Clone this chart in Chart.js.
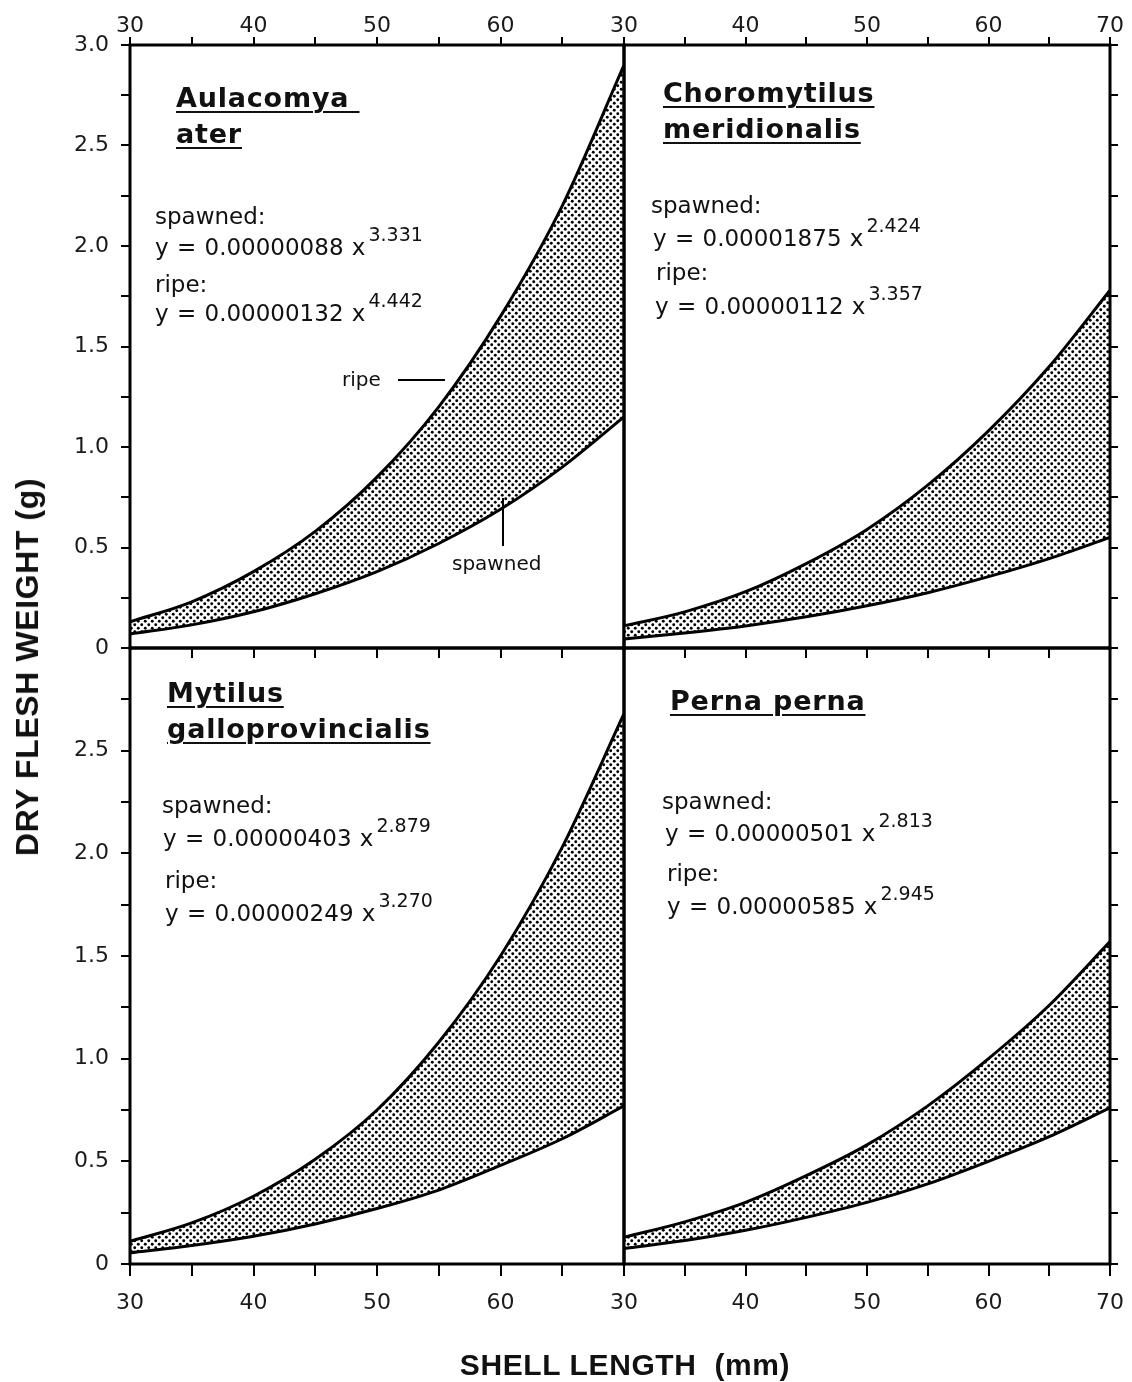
<!DOCTYPE html>
<html>
<head>
<meta charset="utf-8">
<script src="https://cdn.jsdelivr.net/npm/chart.js@4.4.1/dist/chart.umd.min.js"></script>
<style>
  html, body { margin: 0; padding: 0; background: #fff; }
  #page { position: relative; width: 1132px; height: 1382px; overflow: hidden; color: #111; font-family: 'DejaVu Sans', sans-serif; }
  #page canvas { position: absolute; left: 0; top: 0; }
  .t { position: absolute; white-space: pre; line-height: 1; z-index: 2; }
  .sp { font-weight: bold; font-size: 27px; letter-spacing: 0.8px; text-decoration: underline; text-decoration-thickness: 2px; text-underline-offset: 4px; }
  .eq { font-size: 23px; word-spacing: 1px; }
  .eq sup { font-size: 19px; position: relative; top: -5px; vertical-align: super; line-height: 0; margin-left: 3px; }
  .note { font-size: 20px; }
  .ttl { font-family: 'Liberation Sans', Arial, sans-serif; font-weight: bold; font-size: 30px; letter-spacing: 0.6px; }
  .lead { position: absolute; background: #000; z-index: 2; }
</style>
</head>
<body>
<div id="page">
  <canvas id="tl" width="1132" height="1382"></canvas>
  <canvas id="tr" width="1132" height="1382"></canvas>
  <canvas id="bl" width="1132" height="1382"></canvas>
  <canvas id="br" width="1132" height="1382"></canvas>

  <!-- Aulacomya ater -->
  <div class="t sp" style="left:176px;top:84px">Aulacomya&nbsp;</div>
  <div class="t sp" style="left:176px;top:120px">ater</div>
  <div class="t eq" style="left:155px;top:205px">spawned:</div>
  <div class="t eq" style="left:155px;top:236px">y = 0.00000088 x<sup>3.331</sup></div>
  <div class="t eq" style="left:155px;top:273px">ripe:</div>
  <div class="t eq" style="left:155px;top:302px">y = 0.00000132 x<sup>4.442</sup></div>
  <div class="t note" style="left:342px;top:369px">ripe</div>
  <div class="lead" style="left:398px;top:379px;width:47px;height:2px"></div>
  <div class="t note" style="left:452px;top:553px">spawned</div>
  <div class="lead" style="left:502px;top:498px;width:2px;height:48px"></div>

  <!-- Choromytilus meridionalis -->
  <div class="t sp" style="left:663px;top:79px">Choromytilus</div>
  <div class="t sp" style="left:663px;top:115px">meridionalis</div>
  <div class="t eq" style="left:651px;top:194px">spawned:</div>
  <div class="t eq" style="left:653px;top:227px">y = 0.00001875 x<sup>2.424</sup></div>
  <div class="t eq" style="left:656px;top:261px">ripe:</div>
  <div class="t eq" style="left:655px;top:295px">y = 0.00000112 x<sup>3.357</sup></div>

  <!-- Mytilus galloprovincialis -->
  <div class="t sp" style="left:167px;top:679px">Mytilus</div>
  <div class="t sp" style="left:167px;top:715px">galloprovincialis</div>
  <div class="t eq" style="left:162px;top:794px">spawned:</div>
  <div class="t eq" style="left:163px;top:827px">y = 0.00000403 x<sup>2.879</sup></div>
  <div class="t eq" style="left:165px;top:869px">ripe:</div>
  <div class="t eq" style="left:165px;top:902px">y = 0.00000249 x<sup>3.270</sup></div>

  <!-- Perna perna -->
  <div class="t sp" style="left:670px;top:687px">Perna perna</div>
  <div class="t eq" style="left:662px;top:790px">spawned:</div>
  <div class="t eq" style="left:665px;top:822px">y = 0.00000501 x<sup>2.813</sup></div>
  <div class="t eq" style="left:667px;top:862px">ripe:</div>
  <div class="t eq" style="left:667px;top:895px">y = 0.00000585 x<sup>2.945</sup></div>

  <!-- axis titles -->
  <div class="t ttl" style="left:27px;top:667px;font-size:32px;transform:translate(-50%,-50%) rotate(-90deg)">DRY FLESH WEIGHT (g)</div>
  <div class="t ttl" style="left:625px;top:1365px;transform:translate(-50%,-50%)">SHELL LENGTH  (mm)</div>
</div>

<script>
// shell length (mm) at which each curve is sampled
const SHELL_MM = [30, 35, 40, 45, 50, 55, 60, 65, 70];

// dry flesh weight (g)
const AULACOMYA_SPAWNED    = [0.07, 0.115, 0.18, 0.27, 0.38, 0.52, 0.69, 0.90, 1.15];
const AULACOMYA_RIPE       = [0.13, 0.23, 0.38, 0.58, 0.85, 1.20, 1.65, 2.20, 2.90];
const CHOROMYTILUS_SPAWNED = [0.045, 0.075, 0.11, 0.155, 0.21, 0.275, 0.355, 0.445, 0.55];
const CHOROMYTILUS_RIPE    = [0.11, 0.18, 0.28, 0.42, 0.59, 0.81, 1.08, 1.40, 1.78];
const MYTILUS_SPAWNED      = [0.055, 0.09, 0.135, 0.195, 0.27, 0.36, 0.48, 0.61, 0.77];
const MYTILUS_RIPE         = [0.11, 0.20, 0.33, 0.51, 0.75, 1.08, 1.50, 2.03, 2.68];
const PERNA_SPAWNED        = [0.075, 0.114, 0.164, 0.227, 0.30, 0.39, 0.50, 0.62, 0.76];
const PERNA_RIPE           = [0.13, 0.205, 0.30, 0.43, 0.58, 0.77, 1.00, 1.26, 1.57];

// labelled ticks
const X_LABELS_LEFT  = [30, 40, 50, 60];
const X_LABELS_RIGHT = [30, 40, 50, 60, 70];
const Y_LABELS_TOP   = [0, 0.5, 1, 1.5, 2, 2.5, 3];
const Y_LABELS_BOT   = [0, 0.5, 1, 1.5, 2, 2.5];

const W = 1132, H = 1382;
const X0 = 130, XM = 624, X1 = 1110;
const Y0 = 45, YM = 648, Y1 = 1264;
const TICK_FONT = { family: 'DejaVu Sans', size: 22 };

// dotted screen used between the two curves
function stipple() {
  const c = document.createElement('canvas');
  c.width = 7; c.height = 7;
  const g = c.getContext('2d');
  g.fillStyle = '#fff';
  g.fillRect(0, 0, 7, 7);
  g.fillStyle = '#000';
  [[1.75, 1.75], [5.25, 5.25]].forEach(([x, y]) => {
    g.beginPath(); g.arc(x, y, 1.45, 0, Math.PI * 2); g.fill();
  });
  return g.createPattern(c, 'repeat');
}
const DOTS = stipple();

const frame = {
  id: 'frame',
  afterDatasetsDraw(chart) {
    const { ctx, chartArea: a } = chart;
    ctx.save();
    ctx.strokeStyle = '#000';
    ctx.lineWidth = 3;
    ctx.strokeRect(a.left, a.top, a.right - a.left, a.bottom - a.top);
    ctx.restore();
  }
};

function fmtY(v) { return v === 0 ? '0' : v.toFixed(1); }

function axis(dir, pos, size, tickLen, labels, pad) {
  const isX = dir === 'x';
  return {
    axis: dir, type: 'linear', position: pos,
    min: isX ? 30 : 0, max: isX ? 70 : 3,
    // fixed axis sizes keep the four plot areas edge to edge
    afterFit: s => {
      if (isX) { s.height = size; s.paddingLeft = 0; s.paddingRight = 0; }
      else { s.width = size; s.paddingTop = 0; s.paddingBottom = 0; }
    },
    border: { display: false },
    grid: { display: tickLen > 0, drawOnChartArea: false, tickLength: tickLen, color: '#000', lineWidth: 2 },
    ticks: {
      stepSize: isX ? 5 : 0.25, autoSkip: false, maxRotation: 0, padding: pad || 0,
      color: '#1a1a1a', font: TICK_FONT,
      callback: v => (labels && labels.includes(v)) ? (isX ? String(v) : fmtY(v)) : ''
    }
  };
}

function panel(id, spawned, ripe, scales) {
  new Chart(document.getElementById(id), {
    type: 'line',
    data: {
      datasets: [
        { label: 'spawned', data: spawned, fill: false },
        { label: 'ripe', data: ripe, fill: '-1', backgroundColor: DOTS }
      ]
    },
    options: {
      responsive: false,
      animation: false,
      layout: { padding: 0 },
      elements: {
        line: { borderColor: '#000', borderWidth: 3, cubicInterpolationMode: 'monotone' },
        point: { radius: 0 }
      },
      plugins: { legend: { display: false }, tooltip: { enabled: false } },
      scales
    },
    plugins: [frame]
  });
}

function pts(vals) { return SHELL_MM.map((x, i) => ({ x, y: vals[i] })); }

panel('tl', pts(AULACOMYA_SPAWNED), pts(AULACOMYA_RIPE), {
  x:  axis('x', 'top', Y0, 8, X_LABELS_LEFT, -2),
  x2: axis('x', 'bottom', H - YM, 10, null),
  y:  axis('y', 'left', X0, 9, Y_LABELS_TOP, 12),
  y2: axis('y', 'right', W - XM, 0, null)
});

panel('tr', pts(CHOROMYTILUS_SPAWNED), pts(CHOROMYTILUS_RIPE), {
  x:  axis('x', 'top', Y0, 8, X_LABELS_RIGHT, -2),
  x2: axis('x', 'bottom', H - YM, 10, null),
  y:  axis('y', 'left', XM, 0, null),
  y2: axis('y', 'right', W - X1, 8, null)
});

panel('bl', pts(MYTILUS_SPAWNED), pts(MYTILUS_RIPE), {
  x:  axis('x', 'bottom', H - Y1, 12, X_LABELS_LEFT, 14),
  x2: axis('x', 'top', YM, 0, null),
  y:  axis('y', 'left', X0, 9, Y_LABELS_BOT, 12),
  y2: axis('y', 'right', W - XM, 0, null)
});

panel('br', pts(PERNA_SPAWNED), pts(PERNA_RIPE), {
  x:  axis('x', 'bottom', H - Y1, 12, X_LABELS_RIGHT, 14),
  x2: axis('x', 'top', YM, 0, null),
  y:  axis('y', 'left', XM, 0, null),
  y2: axis('y', 'right', W - X1, 8, null)
});
</script>
</body>
</html>
